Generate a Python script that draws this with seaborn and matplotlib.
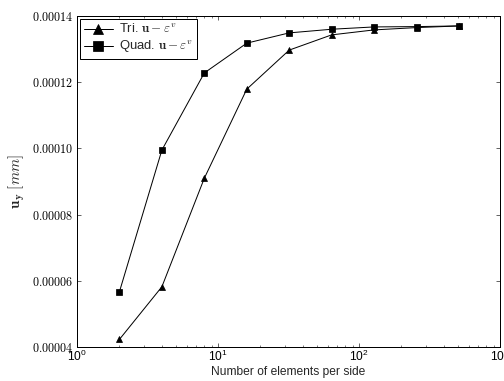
import matplotlib
matplotlib.use("Agg")
import matplotlib.pyplot as plt
from matplotlib.ticker import FuncFormatter, LogLocator, MultipleLocator
import seaborn as sns
import pandas as pd

# Mesh refinement: number of elements per side
elements = [2, 4, 8, 16, 32, 64, 128, 256, 512]
# Vertical displacement u_y [mm]
tri_uy = [0.0000423, 0.0000582, 0.0000910, 0.0001179, 0.0001297,
          0.0001343, 0.0001358, 0.0001365, 0.0001370]
quad_uy = [0.0000567, 0.0000995, 0.0001228, 0.0001318, 0.0001349,
           0.0001360, 0.0001367, 0.0001368, 0.0001370]
series_labels = [r"Tri. $\mathbf{u}-\varepsilon^v$", r"Quad. $\mathbf{u}-\varepsilon^v$"]

sns.set_style("white")
plt.rcParams["font.family"] = ["Liberation Sans", "DejaVu Sans"]
plt.rcParams["mathtext.fontset"] = "cm"

fig = plt.figure(figsize=(7.0, 381 / 72), dpi=72)
ax = fig.add_axes([77 / 504, 1 - 347 / 381, 423 / 504, 331 / 381])

df_tri = pd.DataFrame({"n": elements, "uy": tri_uy})
df_quad = pd.DataFrame({"n": elements, "uy": quad_uy})

sns.lineplot(data=df_tri, x="n", y="uy", ax=ax, color="k", lw=1.0,
             marker="^", markersize=6, markeredgecolor="k", label=series_labels[0])
sns.lineplot(data=df_quad, x="n", y="uy", ax=ax, color="k", lw=1.0,
             marker="s", markersize=5.5, markeredgecolor="k", label=series_labels[1])

ax.set_xscale("log")
ax.set_xlim(1, 1000)
ax.set_ylim(0.00004, 0.00014)
ax.yaxis.set_major_locator(MultipleLocator(0.00002))
ax.yaxis.set_major_formatter(FuncFormatter(lambda v, p: "$%.5f$" % v))
ax.xaxis.set_major_locator(LogLocator(base=10))
ax.xaxis.set_minor_locator(LogLocator(base=10, subs=range(2, 10)))

for s in ax.spines.values():
    s.set_color("k")
    s.set_linewidth(1.0)

ax.tick_params(which="both", direction="in", top=True, right=True,
               bottom=True, left=True, colors="k", labelsize=12)
ax.tick_params(which="major", length=4, width=0.6)
ax.tick_params(which="minor", length=2, width=0.5)
ax.tick_params(axis="x", which="major", pad=2)
ax.tick_params(axis="y", which="major", pad=4)

ax.set_xlabel("Number of elements per side", fontsize=12, labelpad=2)
ax.set_ylabel(r"$\mathbf{u_y}\ [mm]$", fontsize=15, labelpad=5)

leg = ax.legend(loc="upper left", frameon=True, fancybox=False, markerscale=1.7,
                numpoints=1, handlelength=2.2, fontsize=13, borderpad=0.3,
                labelspacing=0.2, handletextpad=0.45, borderaxespad=0.25)
leg.get_frame().set_edgecolor("k")
leg.get_frame().set_linewidth(1.0)
leg.get_frame().set_alpha(1)

fig.savefig("out.png", dpi=72, facecolor="white")
